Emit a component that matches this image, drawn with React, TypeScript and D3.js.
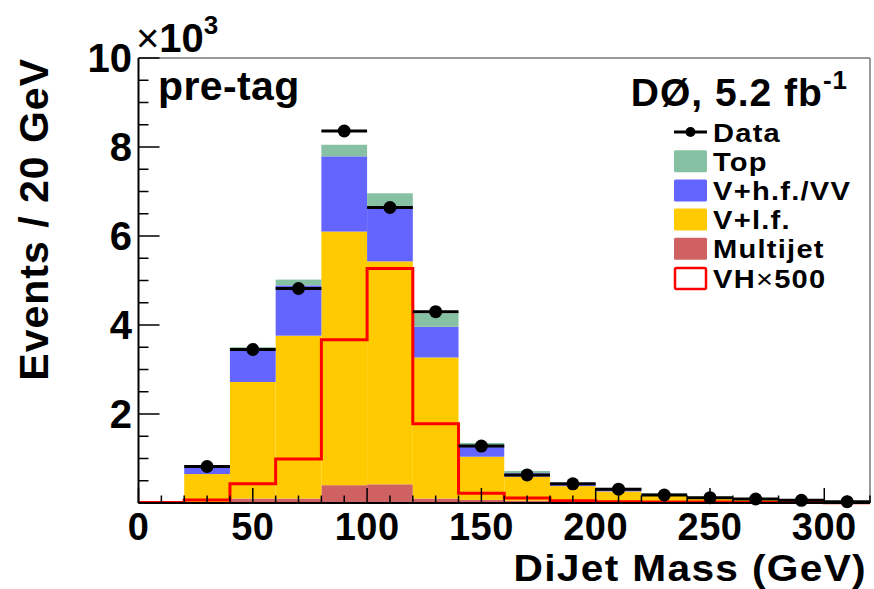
import React from "react";
import * as d3 from "d3";

// bin lower edges (GeV), 20 GeV bins
const binLow = [0, 20, 40, 60, 80, 100, 120, 140, 160, 180, 200, 220, 240, 260, 280, 300];
// values in units of 10^3 events
const multijet = [0, 0.02, 0.1, 0.1, 0.4, 0.42, 0.1, 0.07, 0.05, 0.04, 0.03, 0.02, 0.02, 0.01, 0.01, 0.01];
const vlf = [0, 0.63, 2.62, 3.66, 5.7, 5.01, 3.17, 0.97, 0.54, 0.34, 0.23, 0.14, 0.08, 0.06, 0.04, 0.02];
const vhf = [0, 0.16, 0.72, 1.13, 1.69, 1.24, 0.69, 0.26, 0.08, 0.04, 0.05, 0.04, 0.03, 0.02, 0.015, 0.01];
const top = [0, 0.03, 0.06, 0.13, 0.26, 0.29, 0.3, 0.05, 0.05, 0.03, 0.03, 0.02, 0.01, 0.01, 0.005, 0.005];
const dataVals = [NaN, 0.82, 3.45, 4.82, 8.36, 6.64, 4.3, 1.28, 0.63, 0.43, 0.31, 0.18, 0.12, 0.09, 0.06, 0.03];
const vh500 = [0.01, 0.07, 0.43, 0.99, 3.67, 5.27, 1.78, 0.22, 0.11, 0.05, 0.03, 0.02, 0.02, 0.01, 0.01, 0.005];

const xTickLabels = [0, 50, 100, 150, 200, 250, 300];
const yTickLabels = [2, 4, 6, 8, 10];
const seriesKeys = ["Multijet", "V+l.f.", "V+h.f./VV", "Top"];
const legendLabels = ["Data", "Top", "V+h.f./VV", "V+l.f.", "Multijet", "VH×500"];

const colors: Record<string, string> = {
  Multijet: "#CF6163",
  "V+l.f.": "#FFCB00",
  "V+h.f./VV": "#6464FF",
  Top: "#86C1A4",
};

const W = 874;
const H = 589;
const X0 = 138.5, X1 = 870, Y0 = 58, Y1 = 503;
const FONT = "'Liberation Sans', Arial, Helvetica, sans-serif";

export default function App() {
  const x = d3.scaleLinear().domain([0, 320]).range([X0, X1]);
  const y = d3.scaleLinear().domain([0, 10]).range([Y1, Y0]);

  const rows = binLow.map((lo, i) => ({
    lo,
    Multijet: multijet[i],
    "V+l.f.": vlf[i],
    "V+h.f./VV": vhf[i],
    Top: top[i],
  }));
  const stacked = d3.stack<any>().keys(seriesKeys)(rows);

  // VH step outline
  const stepPts: [number, number][] = [];
  binLow.forEach((lo, i) => {
    stepPts.push([lo, vh500[i]]);
    stepPts.push([lo + 20, vh500[i]]);
  });
  const stepLine = d3
    .line<[number, number]>()
    .x((d) => x(d[0]))
    .y((d) => y(d[1]));

  const minorY = d3.range(0, 10.01, 0.5);
  const minorX = d3.range(0, 321, 10);

  const legX = 674;
  const legRowY = (i: number) => 132 + i * 29.2;

  return (
    <svg
      width={W}
      height={H}
      style={{ position: "absolute", left: 0, top: 0, background: "#fff" }}
      fontFamily={FONT}
      fontWeight="bold"
    >
      {/* stacked bars */}
      {stacked.map((s) => (
        <g key={s.key}>
          {s.map((d, i) => {
            const h = y(d[0]) - y(d[1]);
            if (h <= 0) return null;
            return (
              <rect
                key={i}
                x={x(binLow[i])}
                y={y(d[1])}
                width={x(binLow[i] + 20) - x(binLow[i])}
                height={h}
                fill={colors[s.key as string]}
              />
            );
          })}
        </g>
      ))}

      {/* VH x500 outline */}
      <path d={stepLine(stepPts) || ""} fill="none" stroke="#FF0000" strokeWidth={3} />

      {/* data points */}
      {binLow.map((lo, i) =>
        isNaN(dataVals[i]) ? null : (
          <g key={i}>
            <line
              x1={x(lo)}
              x2={x(lo + 20)}
              y1={y(dataVals[i])}
              y2={y(dataVals[i])}
              stroke="#000"
              strokeWidth={3}
            />
            <circle cx={x(lo + 10)} cy={y(dataVals[i])} r={6.5} fill="#000" />
          </g>
        )
      )}

      {/* frame */}
      <line x1={X0} x2={X1} y1={Y0} y2={Y0} stroke="#777" strokeWidth={1.5} />
      <line x1={X1} x2={X1} y1={Y0} y2={Y1} stroke="#777" strokeWidth={1.5} />
      <line x1={X0} x2={X0} y1={Y0} y2={Y1} stroke="#000" strokeWidth={2} />
      <line x1={X0} x2={X1} y1={Y1} y2={Y1} stroke="#000" strokeWidth={2} />

      {/* y ticks */}
      {minorY.map((v) => {
        const major = Math.abs(v - Math.round(v / 2) * 2) < 1e-6;
        return (
          <line
            key={"yt" + v}
            x1={X0}
            x2={X0 + (major ? 21 : 10)}
            y1={y(v)}
            y2={y(v)}
            stroke="#000"
            strokeWidth={1.5}
          />
        );
      })}
      {/* x ticks */}
      {minorX.map((v) => {
        const major = v % 50 === 0;
        return (
          <line
            key={"xt" + v}
            x1={x(v)}
            x2={x(v)}
            y1={Y1}
            y2={Y1 - (major ? 15 : 7.5)}
            stroke="#000"
            strokeWidth={1.5}
          />
        );
      })}

      {/* tick labels */}
      {yTickLabels.map((v) => (
        <text key={"yl" + v} x={132} y={y(v) + 14} fontSize={40} textAnchor="end">
          {v}
        </text>
      ))}
      {xTickLabels.map((v) => (
        <text key={"xl" + v} x={x(v)} y={540} fontSize={38} textAnchor="middle" letterSpacing={0.5}>
          {v}
        </text>
      ))}

      {/* exponent */}
      <text x={136} y={52} fontSize={40}>
        <tspan fontWeight="normal">×</tspan>
        <tspan>10</tspan>
        <tspan dy={-18} fontSize={26}>3</tspan>
      </text>

      {/* axis titles */}
      <text
        transform="translate(867, 581) scale(1.1, 1)"
        fontSize={37}
        textAnchor="end"
        letterSpacing={1.2}
      >
        DiJet Mass (GeV)
      </text>
      <text
        transform={`translate(48, 58) rotate(-90)`}
        fontSize={41}
        textAnchor="end"
        letterSpacing={1}
      >
        Events / 20 GeV
      </text>

      {/* labels */}
      <text x={158} y={100} fontSize={41} letterSpacing={0.4}>
        pre-tag
      </text>
      <text x={848} y={106} fontSize={39} textAnchor="end" letterSpacing={1}>
        DØ, 5.2 fb<tspan dy={-17} fontSize={26}>-1</tspan>
      </text>

      {/* legend */}
      {legendLabels.map((lab, i) => {
        const cy = legRowY(i);
        let marker;
        if (i === 0) {
          marker = (
            <g>
              <line x1={legX} x2={legX + 33} y1={cy} y2={cy} stroke="#000" strokeWidth={3} />
              <circle cx={legX + 16.5} cy={cy} r={5} fill="#000" />
            </g>
          );
        } else if (i === 5) {
          marker = (
            <rect x={legX + 1} y={cy - 10} width={31} height={21} fill="#fff" stroke="#FF0000" strokeWidth={2.5} rx={1.5} />
          );
        } else {
          const key = lab;
          marker = <rect x={legX} y={cy - 11} width={33} height={22} fill={colors[key]} rx={1.5} />;
        }
        return (
          <g key={lab}>
            {marker}
            <text
              transform={`translate(${legX + 39}, ${cy + 9.5}) scale(1.12, 1)`}
              fontSize={26}
              letterSpacing={1.1}
            >
              {i === 5 ? (
                <>
                  VH<tspan fontWeight="normal">×</tspan>500
                </>
              ) : (
                lab
              )}
            </text>
          </g>
        );
      })}
    </svg>
  );
}
